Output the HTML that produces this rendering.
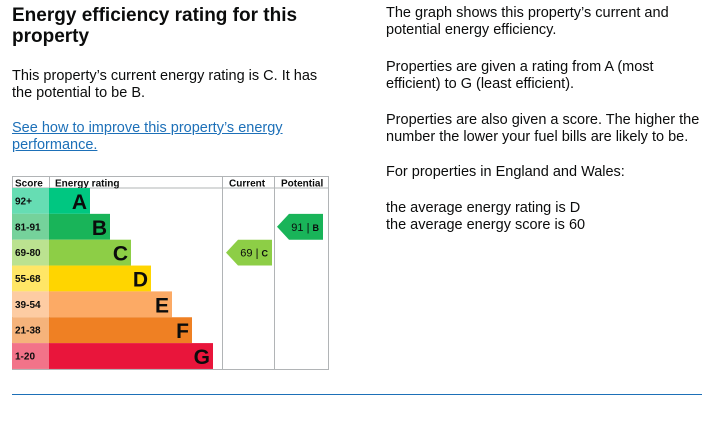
<!DOCTYPE html>
<html><head><meta charset="utf-8"><style>
body{margin:0;width:720px;height:423px;background:#fff;font-family:"Liberation Sans",sans-serif;position:relative;overflow:hidden;color:#0b0c0c}
.t{position:absolute;margin:0}
h1{font-size:19px;line-height:21px;font-weight:bold;left:12px;top:5px;width:320px}
p{font-size:14.5px;line-height:17px}
a{color:#1d70b8}
</style></head><body>
<h1 class="t">Energy efficiency rating for this property</h1>
<p class="t" style="left:12px;top:68px;width:312px">This property’s current energy rating is C. It has the potential to be B.</p>
<p class="t" style="left:12px;top:120px;width:330px"><a href="#">See how to improve this property’s energy performance.</a></p>
<div class="t" style="left:386px;top:5px;width:320px">
<p style="margin:0 0 20px">The graph shows this property’s current and potential energy efficiency.</p>
<p style="margin:0 0 19px">Properties are given a rating from A (most efficient) to G (least efficient).</p>
<p style="margin:0 0 18px">Properties are also given a score. The higher the number the lower your fuel bills are likely to be.</p>
<p style="margin:0 0 19px">For properties in England and Wales:</p>
<p style="margin:0">the average energy rating is D<br>the average energy score is 60</p>
</div>
<svg class="t" style="left:0;top:0" width="720" height="423">
<g id="g"></g>
<line x1="12" y1="394.5" x2="702" y2="394.5" stroke="#1d70b8" stroke-width="1"/>
</svg>
<script>
const bands=['A','B','C','D','E','F','G'];
const ranges=['92+','81-91','69-80','55-68','39-54','21-38','1-20'];
const barEnds=[90,110,131,151,172,192,213];
const colors=['#00c781','#19b459','#8dce46','#ffd500','#fcaa65','#ef8023','#e9153b'];
const tints=['#66ddb3','#75d29b','#bbe290','#ffe666','#fdcca3','#f5b37b','#f27389'];
const currentScore=69, currentBand='C';
const potentialScore=91, potentialBand='B';
const NS='http://www.w3.org/2000/svg', g=document.getElementById('g');
const top0=188, rowH=25.85, left=12, scoreW=37;
function mk(t,a,txt){const e=document.createElementNS(NS,t);for(const k in a)e.setAttribute(k,a[k]);if(txt!=null)e.textContent=txt;g.appendChild(e);return e;}
function rowY(i){return top0+i*rowH;}
function bandIndex(s){const lo=[92,81,69,55,39,21,1];for(let i=0;i<lo.length;i++)if(s>=lo[i])return i;return 6;}
let e=mk('rect',{x:12.5,y:176.5,width:316,height:193,fill:'#fff',stroke:'#b1b4b6'});

mk('line',{x1:12,y1:188,x2:328,y2:188,stroke:'#b1b4b6'});
[49,222,274].forEach(x=>mk('line',{x1:x+.5,y1:176,x2:x+.5,y2:369,stroke:'#b1b4b6'}));
[['Score',15],['Energy rating',55],['Current',229],['Potential',281]].forEach(h=>{e=mk('text',{x:h[1],y:186.5,'font-size':10,'font-weight':'bold',fill:'#0b0c0c'},h[0]);});
bands.forEach((b,i)=>{const y=rowY(i);
 e=mk('rect',{x:left,y:y,width:scoreW,height:rowH,fill:tints[i]});
 e=mk('text',{x:15,y:y+rowH/2+3.5,'font-size':10,'font-weight':'bold',fill:'#0b0c0c'},ranges[i]);
 e=mk('text',{x:barEnds[i]-3,y:y+rowH/2+8,'font-size':21,'font-weight':'bold','text-anchor':'end',fill:'#0b0c0c'},b);
 g.insertBefore(mk('rect',{x:49,y:y,width:barEnds[i]-49,height:rowH,fill:colors[i],}),e);
});
function arrow(score,band,x0,x1,name){const i=bandIndex(score),y=rowY(i),h=rowH,c=colors[i];
 e=mk('polygon',{points:`${x0},${y+h/2} ${x0+12},${y} ${x1},${y} ${x1},${y+h} ${x0+12},${y+h}`,fill:c});
 e=mk('text',{x:x1-4,y:y+h/2+4,'font-size':11,'text-anchor':'end',fill:'#0b0c0c'},score+' |  ');
 const ts=document.createElementNS(NS,'tspan');ts.setAttribute('font-size','9');ts.setAttribute('font-weight','bold');ts.textContent=band;e.appendChild(ts);
}
arrow(currentScore,currentBand,226,272,'current');
arrow(potentialScore,potentialBand,277,323,'potential');
</script>
</body></html>
